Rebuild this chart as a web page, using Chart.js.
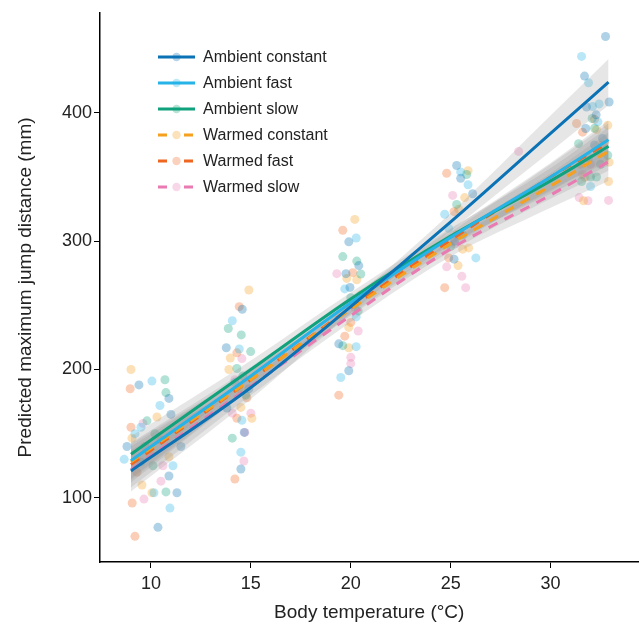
<!DOCTYPE html>
<html>
<head>
<meta charset="utf-8">
<script src="https://cdn.jsdelivr.net/npm/chart.js@4.4.1/dist/chart.umd.min.js"></script>
<style>
html,body{margin:0;padding:0;background:#fff;}
#c{display:block;}
</style>
</head>
<body>
<canvas id="c" width="643" height="630"></canvas>
<script>
// ---------- data ----------
const seriesNames = ["Ambient constant","Ambient fast","Ambient slow","Warmed constant","Warmed fast","Warmed slow"];
const seriesColors = ["#0A72B5","#25B3E8","#0FA27C","#F5A01F","#EE6620","#E97BB2"];
const seriesDashed = [false,false,false,true,true,true];
const xTicks = [10,15,20,25,30];
const yTicks = [100,200,300,400];

// fitted lines, evaluated at lineX
const lineX = [9, 15, 20, 25, 30, 32.9];
const fitAmbientConstant = [121, 186, 249, 315, 384, 424];
const fitAmbientFast     = [129, 195, 252, 303, 350, 379];
const fitAmbientSlow     = [134, 200, 255, 304, 347, 374];
const fitWarmedConstant  = [128, 192, 247, 298, 343, 370];
const fitWarmedFast      = [126, 192, 248, 301, 350, 377];
const fitWarmedSlow      = [122, 187, 242, 294, 336, 362];

// confidence bands
const hiAmbientConstant = [137, 195, 254, 322, 398, 442];
const loAmbientConstant = [105, 177, 244, 308, 370, 406];
const hiAmbientFast     = [143, 202, 257, 309, 361, 394];
const loAmbientFast     = [115, 188, 247, 297, 339, 364];
const hiAmbientSlow     = [148, 207, 260, 310, 357, 389];
const loAmbientSlow     = [120, 193, 250, 298, 337, 359];
const hiWarmedConstant  = [142, 199, 252, 304, 353, 385];
const loWarmedConstant  = [114, 185, 242, 292, 333, 355];
const hiWarmedFast      = [140, 199, 253, 307, 360, 392];
const loWarmedFast      = [112, 185, 243, 295, 340, 362];
const hiWarmedSlow      = [136, 194, 247, 300, 346, 377];
const loWarmedSlow      = [108, 180, 237, 288, 326, 347];

// observed points (x = body temperature, y = jump distance)
const ptsAmbientConstantX = [9.4,10.9,11.0,8.8,11.5,10.9,11.3,10.35,9.5, 14.57,13.77,13.8,14.67,14.5,14.9, 19.9,19.76,19.96,19.4,19.9,20.4, 25.3,25.5,26.1,25.17,25.2, 32.75,31.7,32.93,31.8,32.28,31.76,32.2,32.6];
const ptsAmbientConstantY = [188,177.5,165,140,140,117,104,77,128, 247,217,170,151,122.5,185, 299.5,274.7,264,220,199,281, 359,349,337,286,300, 459.5,428.7,408.5,404.6,398.5,387.8,375,380];
const ptsAmbientFastX = [10.05,10.45,9.5,8.66,11.1,10.15,10.95,9.2, 14.07,14.42,14.55,14.5,14.2, 20.27,19.7,20.27,20.27,19.5,20.1, 25.5,25.87,24.7,26.26,24.9, 31.55,31.9,32.43,32.1,32.37,32.0,31.9];
const ptsAmbientFastY = [191,172,155,130,125,104,92,150, 238,216,160.5,135.6,190, 302.5,262.8,241,217.8,193.8,252, 354,344,321,287,310, 444,423.5,407,405,393,342.6,365];
const ptsAmbientSlowX = [10.7,10.75,10.75,9.7,10.2,10.1,9.8, 13.87,14.52,14.99,14.3,14.75,14.07,14.6, 19.6,20.3,20.5,20.37,19.6,20.0, 25.8,25.3,25.6,25.0, 32.08,32.2,31.4,32.86,31.55,32.0,32.3,32.5];
const ptsAmbientSlowY = [192,182,104.6,140,150,125,160, 232,227,214,200.8,180,146.5,195, 288,284.5,274.4,245.7,218.6,256, 352,328.7,305,296, 395.6,388,376,367,346.5,350,350,360];
const ptsWarmedConstantX = [9.0,10.3,9.05,10.9,9.55,10.05,9.9, 14.9,13.97,13.9,14.5,15.05,14.4, 20.2,19.8,20.3,19.9,19.9,20.5, 25.87,25.7,25.6,25.9,25.37,25.4, 32.86,32.3,32.93,32.9,31.65,31.7,32.4];
const ptsWarmedConstantY = [200,163,146.5,132,110,104,135, 262,209,200,170.5,162,185, 317,271,270,232.8,217,258, 355,334,293.8,294.8,281,325, 390.4,387,361.6,346.5,331.5,350,370];
const ptsWarmedFastX = [8.96,9.06,9.2,10.5,9.3,9.0, 14.42,14.3,14.3,14.2,14.8, 19.6,20.1,20.0,19.7,19.4,19.8, 24.8,25.17,24.9,24.7,25.3, 32.2,31.3,31.6,31.5,32.6];
const ptsWarmedFastY = [185,96,70,145,120,155, 249,213,162,114.7,178, 308.5,275.5,236.7,226,180,250, 353,323,287,263.8,305, 395,391.7,385,360,375];
const ptsWarmedSlowX = [9.6,10.6,10.5,9.65, 14.55,14.07,15.0,14.65,14.7,14.2, 19.3,20.37,20.0,20.0,20.2, 25.1,24.8,25.56,25.75,25.2, 31.43,31.87,32.9,28.4,32.0,31.6];
const ptsWarmedSlowY = [158,125,113,99, 208.5,166,166,128.7,151,192, 274.7,230,209.5,204.6,248, 335.7,280,272.6,263.8,298, 334,331.5,331.8,370,360,352];

// ---------- build datasets ----------
const fits = [fitAmbientConstant,fitAmbientFast,fitAmbientSlow,fitWarmedConstant,fitWarmedFast,fitWarmedSlow];
const his = [hiAmbientConstant,hiAmbientFast,hiAmbientSlow,hiWarmedConstant,hiWarmedFast,hiWarmedSlow];
const los = [loAmbientConstant,loAmbientFast,loAmbientSlow,loWarmedConstant,loWarmedFast,loWarmedSlow];
const ptsX = [ptsAmbientConstantX,ptsAmbientFastX,ptsAmbientSlowX,ptsWarmedConstantX,ptsWarmedFastX,ptsWarmedSlowX];
const ptsY = [ptsAmbientConstantY,ptsAmbientFastY,ptsAmbientSlowY,ptsWarmedConstantY,ptsWarmedFastY,ptsWarmedSlowY];

function rgba(hex,a){
  const n=parseInt(hex.slice(1),16);
  return `rgba(${(n>>16)&255},${(n>>8)&255},${n&255},${a})`;
}
const xy = (xs,ys)=>xs.map((x,i)=>({x:x,y:ys[i]}));

const datasets = [];
for(let i=0;i<6;i++){
  datasets.push({type:'scatter',label:'pts'+i,data:xy(ptsX[i],ptsY[i]),
    backgroundColor:rgba(seriesColors[i],0.32),borderWidth:0,pointRadius:4.5,order:3});
}
for(let i=0;i<6;i++){
  datasets.push({type:'line',label:'hi'+i,data:xy(lineX,his[i]),fill:'+1',
    backgroundColor:'rgba(150,150,150,0.24)',borderWidth:0,pointRadius:0,cubicInterpolationMode:'monotone',order:2});
  datasets.push({type:'line',label:'lo'+i,data:xy(lineX,los[i]),fill:false,
    borderWidth:0,pointRadius:0,cubicInterpolationMode:'monotone',order:2});
}
for(let i=0;i<6;i++){
  datasets.push({type:'line',label:seriesNames[i],data:xy(lineX,fits[i]),fill:false,
    borderColor:seriesColors[i],borderWidth:3,borderDash:seriesDashed[i]?[10,8]:[],
    pointRadius:0,cubicInterpolationMode:'monotone',order:1});
}

const legendPlugin = {
  id:'insideLegend',
  afterDraw(chart){
    const ctx=chart.ctx;
    ctx.save();
    for(let i=0;i<6;i++){
      const y=57+26*i;
      ctx.strokeStyle=seriesColors[i];
      ctx.lineWidth=3;
      ctx.setLineDash(seriesDashed[i]?[9,17]:[]);
      ctx.beginPath();ctx.moveTo(158,y);ctx.lineTo(195,y);ctx.stroke();
      ctx.setLineDash([]);
      ctx.fillStyle=rgba(seriesColors[i],0.3);
      ctx.beginPath();ctx.arc(176.5,y,4.2,0,Math.PI*2);ctx.fill();
      ctx.fillStyle='#222';
      ctx.font='16px "Liberation Sans", Arial, sans-serif';
      ctx.textBaseline='middle';
      ctx.fillText(seriesNames[i],203,y+1);
    }
    ctx.restore();
  }
};

const tickFont = {family:'"Liberation Sans", Arial, sans-serif',size:18};
const titleFont = {family:'"Liberation Sans", Arial, sans-serif',size:19};
new Chart(document.getElementById('c'),{
  data:{datasets:datasets},
  options:{
    responsive:false,animation:false,devicePixelRatio:1,
    layout:{padding:{top:10,right:1,left:12,bottom:0}},
    plugins:{legend:{display:false},tooltip:{enabled:false},filler:{propagate:false}},
    scales:{
      x:{type:'linear',min:7.45,max:34.4,
        afterBuildTicks:s=>{s.ticks=xTicks.map(v=>({value:v}));},
        afterFit:s=>{s.height=68;},
        grid:{display:true,drawOnChartArea:false,drawTicks:true,tickLength:6,color:'#000',lineWidth:1},
        border:{display:true,color:'#000',width:1.5},
        ticks:{font:tickFont,color:'#222',padding:5},
        title:{display:true,text:'Body temperature (°C)',font:titleFont,color:'#222',padding:{top:4,bottom:6}}
      },
      y:{type:'linear',min:50,max:478,
        afterBuildTicks:s=>{s.ticks=yTicks.map(v=>({value:v}));},
        afterFit:s=>{s.width=88;},
        grid:{display:true,drawOnChartArea:false,drawTicks:true,tickLength:6,color:'#000',lineWidth:1},
        border:{display:true,color:'#000',width:1.5},
        ticks:{font:tickFont,color:'#222',padding:2},
        title:{display:true,text:'Predicted maximum jump distance (mm)',font:titleFont,color:'#222',padding:{top:2,bottom:4}}
      }
    }
  },
  plugins:[legendPlugin]
});
</script>
</body>
</html>
